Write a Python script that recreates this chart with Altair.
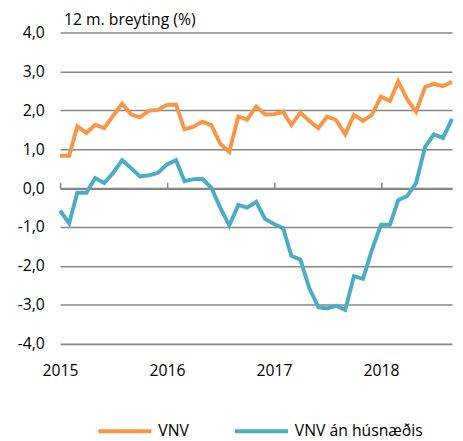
import altair as alt
import pandas as pd

months = pd.date_range("2015-01-01", "2018-09-01", freq="MS").strftime("%Y-%m-%dT00:00:00").tolist()

vnv = [0.83, 0.83, 1.59, 1.42, 1.63, 1.54, 1.86, 2.17, 1.89, 1.82, 1.99, 2.01,
       2.14, 2.15, 1.51, 1.58, 1.71, 1.62, 1.14, 0.93, 1.84, 1.76, 2.10, 1.89,
       1.90, 1.96, 1.62, 1.94, 1.73, 1.54, 1.84, 1.75, 1.38, 1.88, 1.73, 1.88,
       2.35, 2.24, 2.74, 2.28, 1.96, 2.60, 2.68, 2.62, 2.73]

vnv_an = [-0.58, -0.90, -0.12, -0.12, 0.26, 0.13, 0.39, 0.72, 0.51, 0.30, 0.33, 0.39,
          0.61, 0.72, 0.18, 0.23, 0.24, 0.01, -0.50, -0.96, -0.43, -0.50, -0.35, -0.79,
          -0.92, -1.03, -1.74, -1.84, -2.56, -3.06, -3.09, -3.02, -3.13, -2.26, -2.33, -1.59,
          -0.94, -0.94, -0.31, -0.20, 0.13, 1.06, 1.38, 1.29, 1.78]

series_names = ["VNV", "VNV án húsnæðis"]
series_colors = ["#F79646", "#4BACC6"]
year_ticks = [2015, 2016, 2017, 2018]
y_ticks = [-4, -3, -2, -1, 0, 1, 2, 3, 4]

rows = []
for name, vals in zip(series_names, [vnv, vnv_an]):
    for m, v in zip(months, vals):
        rows.append({"date": m, "value": v, "series": name})
df = pd.DataFrame(rows)

FONT = "Open Sans"
FS = 16
W, H = 399, 317

xscale = alt.Scale(domain=[alt.DateTime(year=2015, month=1, date=1),
                           alt.DateTime(year=2018, month=9, date=1)])
yscale = alt.Scale(domain=[-4, 4], nice=False)
year_vals = [alt.DateTime(year=y, month=1, date=1) for y in year_ticks]

y_enc = alt.Y("value:Q", scale=yscale, title=None,
              axis=alt.Axis(values=y_ticks,
                            labelExpr="(datum.value < 0 ? '-' : '') + replace(format(abs(datum.value), '.1f'), '.', ',')",
                            domain=False, ticks=False, grid=True,
                            gridColor="#868686", gridWidth=1.6,
                            labelPadding=16, labelFontSize=FS, labelColor="#000000",
                            labelFont=FONT))

lines = alt.Chart(df).mark_line(strokeWidth=4, strokeJoin="miter").encode(
    x=alt.X("date:T", scale=xscale, title=None,
            axis=alt.Axis(values=year_vals, format="%Y", domain=False, ticks=False,
                          grid=False, labelFontSize=FS, labelColor="#000000",
                          labelFont=FONT, labelPadding=19, labelAlign="center")),
    y=y_enc,
    color=alt.Color("series:N", scale=alt.Scale(domain=series_names, range=series_colors),
                    legend=alt.Legend(title=None, orient="none", direction="horizontal",
                                      legendX=37, legendY=377,
                                      symbolType="stroke",
                                      symbolSize=2916, symbolStrokeWidth=4,
                                      labelFontSize=FS, labelFont=FONT, labelColor="#000000",
                                      labelOffset=5, columnPadding=38,
                                      labelLimit=300)),
)

zero_axis = alt.Chart(df).mark_point(opacity=0).encode(
    x=alt.X("date:T", scale=xscale, title=None,
            axis=alt.Axis(values=year_vals, labels=False, ticks=True, tickSize=6,
                          tickColor="#868686", tickWidth=1.6, domain=True,
                          domainColor="#868686", domainWidth=1.6, grid=False,
                          offset=-(H / 2))),
    y=y_enc,
)

chart = alt.layer(lines, zero_axis).resolve_axis(x="independent").properties(
    width=W, height=H,
    autosize=alt.AutoSizeParams(type="none"),
    padding={"left": 53, "top": 21, "right": 3, "bottom": 95},
    title=alt.TitleParams("12 m. breyting (%)", anchor="start", frame="group",
                          font=FONT, fontSize=16, fontWeight="normal", color="#000000",
                          dx=4, offset=-3),
).configure_view(stroke=None)

chart.save("out.html", embed_options={"renderer": "svg", "actions": False})
